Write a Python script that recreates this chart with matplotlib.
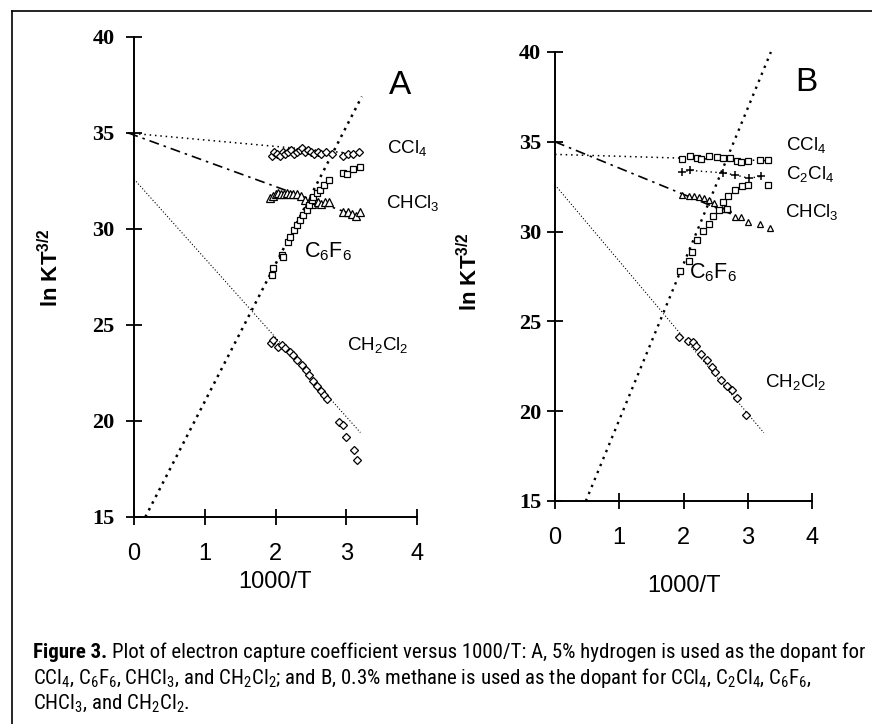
import matplotlib.pyplot as plt
from matplotlib.lines import Line2D
from matplotlib import font_manager

plt.rcParams['mathtext.default'] = 'regular'

# ---- panel A (5% hydrogen) ----
a_ccl4_x = [1.95, 1.98, 2.02, 2.06, 2.10, 2.14, 2.18, 2.22, 2.26, 2.30, 2.34, 2.38,
            2.42, 2.46, 2.50, 2.55, 2.60, 2.65, 2.72, 2.80, 2.95, 3.02, 3.10, 3.18]
a_ccl4_y = [33.8, 34.0, 33.9, 33.8, 34.0, 33.9, 34.0, 34.1, 33.9, 34.0, 34.1, 34.2,
            34.0, 34.1, 34.0, 33.9, 34.0, 33.9, 34.0, 33.9, 33.8, 33.9, 33.9, 34.0]
a_chcl3_x = [1.92, 1.96, 2.00, 2.04, 2.08, 2.12, 2.16, 2.20, 2.25, 2.30, 2.36, 2.42,
             2.48, 2.52, 2.56, 2.60, 2.65, 2.70, 2.76, 2.95, 3.02, 3.08, 3.14, 3.20]
a_chcl3_y = [31.6, 31.7, 31.8, 31.9, 31.8, 31.8, 31.9, 31.8, 31.8, 31.8, 31.7, 31.5,
             31.4, 31.3, 31.5, 31.4, 31.3, 31.4, 31.4, 30.9, 30.9, 30.8, 30.7, 30.9]
a_c6f6_x = [1.95, 1.97, 2.09, 2.10, 2.18, 2.20, 2.26, 2.30, 2.35, 2.39, 2.44,
            2.48, 2.51, 2.53, 2.58, 2.63, 2.69, 2.76, 2.95, 3.01, 3.10, 3.19]
a_c6f6_y = [27.6, 27.95, 28.65, 28.56, 29.34, 29.6, 29.95, 30.2, 30.47, 30.73, 30.99,
            31.25, 31.5, 31.68, 31.86, 32.03, 32.3, 32.55, 32.9, 32.86, 33.1, 33.24]
a_ch2cl2_x = [1.93, 1.97, 2.04, 2.09, 2.13, 2.20, 2.25, 2.30, 2.37, 2.43, 2.48,
              2.53, 2.58, 2.64, 2.69, 2.73, 2.90, 2.96, 3.00, 3.11, 3.15]
a_ch2cl2_y = [24.04, 24.2, 23.87, 23.95, 23.78, 23.6, 23.44, 23.18, 22.92, 22.67, 22.4,
              22.1, 21.8, 21.58, 21.34, 21.17, 19.96, 19.8, 19.18, 18.5, 17.97]
# fitted lines (end points)
a_fit_ccl4 = ([-0.08, 3.2], [35.0, 33.9])
a_fit_chcl3 = ([-0.08, 3.2], [35.0, 30.6])
a_fit_c6f6 = ([0.16, 3.22], [15.0, 36.9])
a_fit_ch2cl2 = ([0.0, 3.2], [32.6, 19.4])

# ---- panel B (0.3% methane) ----
b_ccl4_x = [1.97, 2.10, 2.21, 2.28, 2.39, 2.52, 2.61, 2.72, 2.83, 2.89, 3.01, 3.19, 3.32]
b_ccl4_y = [34.05, 34.19, 34.09, 34.05, 34.23, 34.13, 34.09, 34.09, 33.93, 33.86, 33.95, 33.99, 33.99]
b_c2cl4_x = [1.97, 2.10, 2.61, 2.80, 3.02, 3.21]
b_c2cl4_y = [33.31, 33.41, 33.27, 33.16, 32.97, 33.08]
b_chcl3_x = [1.97, 2.08, 2.16, 2.24, 2.32, 2.39, 2.47, 2.60, 2.70, 2.80, 2.89, 3.01, 3.19, 3.34]
b_chcl3_y = [32.05, 31.99, 31.96, 31.92, 31.86, 31.76, 31.57, 31.28, 31.28, 30.83, 30.8, 30.56, 30.41, 30.21]
b_c6f6_x = [1.94, 2.08, 2.14, 2.21, 2.30, 2.39, 2.46, 2.55, 2.61, 2.67, 2.70, 2.80, 2.91, 3.01, 3.32]
b_c6f6_y = [27.79, 28.37, 28.86, 29.53, 30.02, 30.45, 30.89, 31.22, 31.67, 31.28, 31.96,
            32.29, 32.54, 32.6, 32.6]
b_ch2cl2_x = [1.93, 2.07, 2.15, 2.20, 2.28, 2.36, 2.44, 2.49, 2.58, 2.67, 2.75, 2.83, 2.97]
b_ch2cl2_y = [24.12, 23.9, 23.85, 23.64, 23.19, 22.83, 22.47, 22.17, 21.76, 21.4, 21.17, 20.74, 19.78]
b_fit_ccl4 = ([0.0, 3.3], [34.3, 33.95])
b_fit_chcl3 = ([0.0, 2.8], [35.0, 30.9])
b_fit_c6f6 = ([0.48, 3.36], [15.0, 40.0])
b_fit_ch2cl2 = ([0.0, 3.25], [32.6, 18.8])

x_ticks = [0, 1, 2, 3, 4]
y_ticks = [15, 20, 25, 30, 35, 40]

installed = {f.name for f in font_manager.fontManager.ttflist}

def pick(cands):
    for c in cands:
        if c in installed:
            return c
    return 'DejaVu Sans'

SANS = pick(['Liberation Sans', 'Arimo', 'Roboto', 'Inter', 'Noto Sans'])
SERIF = pick(['Liberation Serif', 'Tinos', 'DejaVu Serif'])
NARROW = pick(['Liberation Sans Narrow', 'Roboto Condensed', 'Open Sans Condensed',
               'Noto Sans Condensed', 'DejaVu Sans Condensed', 'Roboto', SANS])

W, H = 872, 724
fig = plt.figure(figsize=(W / 100, H / 100), dpi=100)

def px_axes(x0, x1, ytop, ybot):
    return fig.add_axes([x0 / W, 1 - ybot / H, (x1 - x0) / W, (ybot - ytop) / H])

axA = px_axes(134, 417, 37, 517)
axB = px_axes(555, 812, 52, 501)

mk = dict(ls='none', mfc='white', mec='black', mew=0.9, clip_on=False)

def style(ax, ylpad, ylab_xy, xlab_y):
    ax.set_xlim(0, 4)
    ax.set_ylim(15, 40)
    ax.set_xticks(x_ticks)
    ax.set_yticks(y_ticks)
    for s in ['top', 'right']:
        ax.spines[s].set_visible(False)
    for s in ['left', 'bottom']:
        ax.spines[s].set_linewidth(1.4)
    ax.patch.set_alpha(0)
    ax.tick_params(axis='both', direction='inout', length=12, width=1.3)
    ax.tick_params(axis='x', pad=13)
    ax.tick_params(axis='y', pad=ylpad)
    ax.set_xticklabels([str(v) for v in x_ticks], family=SANS, fontsize=17)
    ax.set_yticklabels([str(v) for v in y_ticks], family=SERIF, fontweight='bold', fontsize=16)
    ax.set_xlabel('1000/T', fontsize=17, family=SANS)
    ax.xaxis.set_label_coords(0.5, xlab_y)
    ax.set_ylabel(r'ln KT$^{3/2}$', fontsize=16, family=SANS, fontweight='bold')
    ax.yaxis.set_label_coords(*ylab_xy)

# panel A
axA.plot(*a_fit_ccl4, color='black', ls=(0, (1, 2.5)), lw=1.1, clip_on=False)
axA.plot(*a_fit_chcl3, color='black', ls=(0, (6, 3, 1.5, 3)), lw=1.2, clip_on=False)
axA.plot(*a_fit_c6f6, color='black', ls=(0, (1, 2)), lw=1.8, clip_on=False)
axA.plot(*a_fit_ch2cl2, color='black', ls=(0, (1, 1.8)), lw=0.8, clip_on=False)
axA.plot(a_ccl4_x, a_ccl4_y, marker='D', ms=4.5, **mk)
axA.plot(a_chcl3_x, a_chcl3_y, marker='^', ms=5.5, **mk)
axA.plot(a_c6f6_x, a_c6f6_y, marker='s', ms=5, **mk)
axA.plot(a_ch2cl2_x, a_ch2cl2_y, marker='D', ms=4.5, **mk)
style(axA, 8, (-0.251, 0.52), -0.112)

lab = dict(fontsize=13.5, family=SANS, va='center', ha='left')
axA.text(3.76, 37.5, 'A', fontsize=24, family=SANS, fontweight='light',
         va='center', ha='center')
axA.text(3.58, 34.2, r'CCl$_4$', **lab)
axA.text(3.56, 31.35, r'CHCl$_3$', **lab)
axA.text(2.40, 28.8, r'C$_6$F$_6$', fontsize=15.5, family=SANS, va='center', ha='left')
axA.text(3.01, 23.96, r'CH$_2$Cl$_2$', **lab)

# panel B
axB.plot(*b_fit_ccl4, color='black', ls=(0, (1, 2.5)), lw=1.1, clip_on=False)
axB.plot(*b_fit_chcl3, color='black', ls=(0, (6, 3, 1.5, 3)), lw=1.2, clip_on=False)
axB.plot(*b_fit_c6f6, color='black', ls=(0, (1, 2.2)), lw=1.7, clip_on=False)
axB.plot(*b_fit_ch2cl2, color='black', ls=(0, (1, 1.8)), lw=0.8, clip_on=False)
axB.plot(b_c2cl4_x, b_c2cl4_y, color='black', ls=(0, (1, 2.5)), lw=1.0)
axB.plot(b_ccl4_x, b_ccl4_y, marker='s', ms=5, **mk)
axB.plot(b_c2cl4_x, b_c2cl4_y, marker='+', ms=6, ls='none', color='black', mew=1.1)
axB.plot(b_chcl3_x, b_chcl3_y, marker='^', ms=5, **mk)
axB.plot(b_c6f6_x, b_c6f6_y, marker='s', ms=5, **mk)
axB.plot(b_ch2cl2_x, b_ch2cl2_y, marker='D', ms=4, **mk)
style(axB, 4, (-0.284, 0.51), -0.165)

axB.text(3.92, 38.3, 'B', fontsize=24, family=SANS, fontweight='light',
         va='center', ha='center')
axB.text(3.6, 34.8, r'CCl$_4$', **lab)
axB.text(3.6, 33.2, r'C$_2$Cl$_4$', **lab)
axB.text(3.58, 31.1, r'CHCl$_3$', **lab)
axB.text(2.09, 27.7, r'C$_6$F$_6$', fontsize=15.5, family=SANS, va='center', ha='left')
axB.text(3.27, 21.6, r'CH$_2$Cl$_2$', **lab)

# outer frame (left and top edges visible)
fig.add_artist(Line2D([12 / W, 12 / W], [0, 1 - 11 / H], color='black', lw=1.2))
fig.add_artist(Line2D([12 / W, 1], [1 - 11 / H, 1 - 11 / H], color='black', lw=1.2))

# caption, sized so the first line spans the same width as in the figure
cap_lines = [
    'Plot of electron capture coefficient versus 1000/T: A, 5% hydrogen is used as the dopant for',
    r'CCl$_4$, C$_6$F$_6$, CHCl$_3$, and CH$_2$Cl$_2$; and B, 0.3% methane is used as the dopant for '
    r'CCl$_4$, C$_2$Cl$_4$, C$_6$F$_6$,',
    r'CHCl$_3$, and CH$_2$Cl$_2$.',
]
cap_y = [652, 678, 703]
x0 = 33
target = 866 - x0
size = 13.0
renderer = fig.canvas.get_renderer()
for _ in range(3):
    t1 = fig.text(x0 / W, 1 - cap_y[0] / H, 'Figure 3.', family=NARROW, fontweight='bold',
                  fontsize=size, va='center', ha='left')
    w1 = t1.get_window_extent(renderer).width
    t2 = fig.text(0, 0, cap_lines[0], family=NARROW, fontsize=size)
    w2 = t2.get_window_extent(renderer).width
    t1.remove()
    t2.remove()
    size *= target / (w1 + w2 + 5)

t1 = fig.text(x0 / W, 1 - cap_y[0] / H, 'Figure 3.', family=NARROW, fontweight='bold',
              fontsize=size, va='center', ha='left')
bb = t1.get_window_extent(renderer)
fig.text((bb.x1 + 5) / W, 1 - cap_y[0] / H, cap_lines[0],
         family=NARROW, fontsize=size, va='center', ha='left')
for line, yy in zip(cap_lines[1:], cap_y[1:]):
    fig.text(x0 / W, 1 - yy / H, line, family=NARROW, fontsize=size, va='center', ha='left')

fig.savefig('out.png', dpi=100)
